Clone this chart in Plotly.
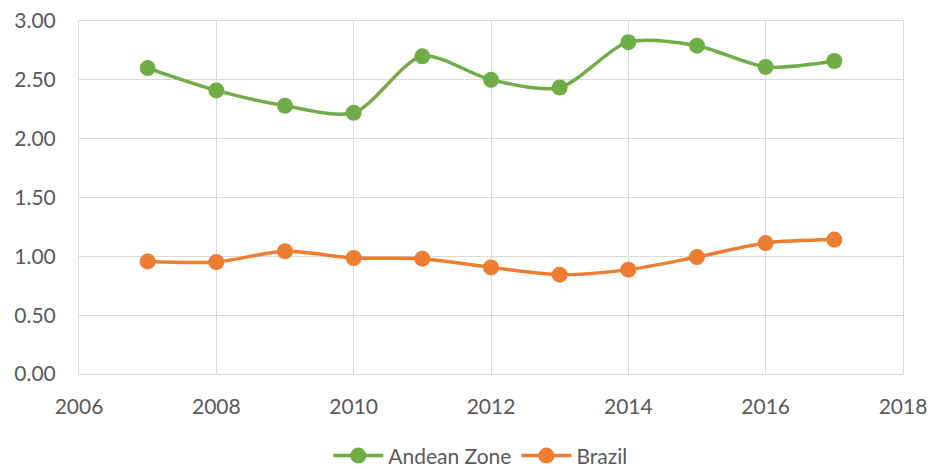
import plotly.graph_objects as go

years = [2007, 2008, 2009, 2010, 2011, 2012, 2013, 2014, 2015, 2016, 2017]
andean = [2.60, 2.41, 2.28, 2.22, 2.70, 2.50, 2.435, 2.82, 2.79, 2.61, 2.66]
brazil = [0.957, 0.952, 1.043, 0.986, 0.98, 0.906, 0.844, 0.887, 0.994, 1.113, 1.142]

green = "#70ad47"
orange = "#ed7d31"
font = "Lato"

fig = go.Figure()
fig.add_trace(go.Scatter(x=years, y=andean, name="Andean Zone", mode="lines+markers",
                         line=dict(color=green, width=3.5, shape="spline", smoothing=0.8),
                         marker=dict(color=green, size=16)))
fig.add_trace(go.Scatter(x=years, y=brazil, name="Brazil", mode="lines+markers",
                         line=dict(color=orange, width=3.5, shape="spline", smoothing=0.8),
                         marker=dict(color=orange, size=16)))

fig.update_layout(
    width=929, height=469,
    margin=dict(l=79, r=26, t=21, b=95, autoexpand=False),
    plot_bgcolor="white", paper_bgcolor="white",
    font=dict(family=font, size=21, color="#595959"),
    showlegend=True,
    legend=dict(orientation="h", x=0.487, xanchor="center", y=-0.232, yanchor="middle",
                font=dict(size=21, color="#595959"), itemwidth=50),
    xaxis=dict(range=[2006, 2018], dtick=2, tick0=2006, showgrid=True, gridcolor="#d9d9d9",
               gridwidth=1, zeroline=False, showline=True, linecolor="#d9d9d9", mirror=True,
               ticks="", ticklabelstandoff=14, automargin=False),
    yaxis=dict(range=[0, 3], dtick=0.5, tickformat=".2f", showgrid=True, gridcolor="#d9d9d9",
               gridwidth=1, zeroline=False, showline=True, linecolor="#d9d9d9", mirror=True,
               ticks="", ticklabelstandoff=18, automargin=False),
)
fig.write_html("out.html", config={"displayModeBar": False},
               post_script="document.body.style.margin='0px';")
